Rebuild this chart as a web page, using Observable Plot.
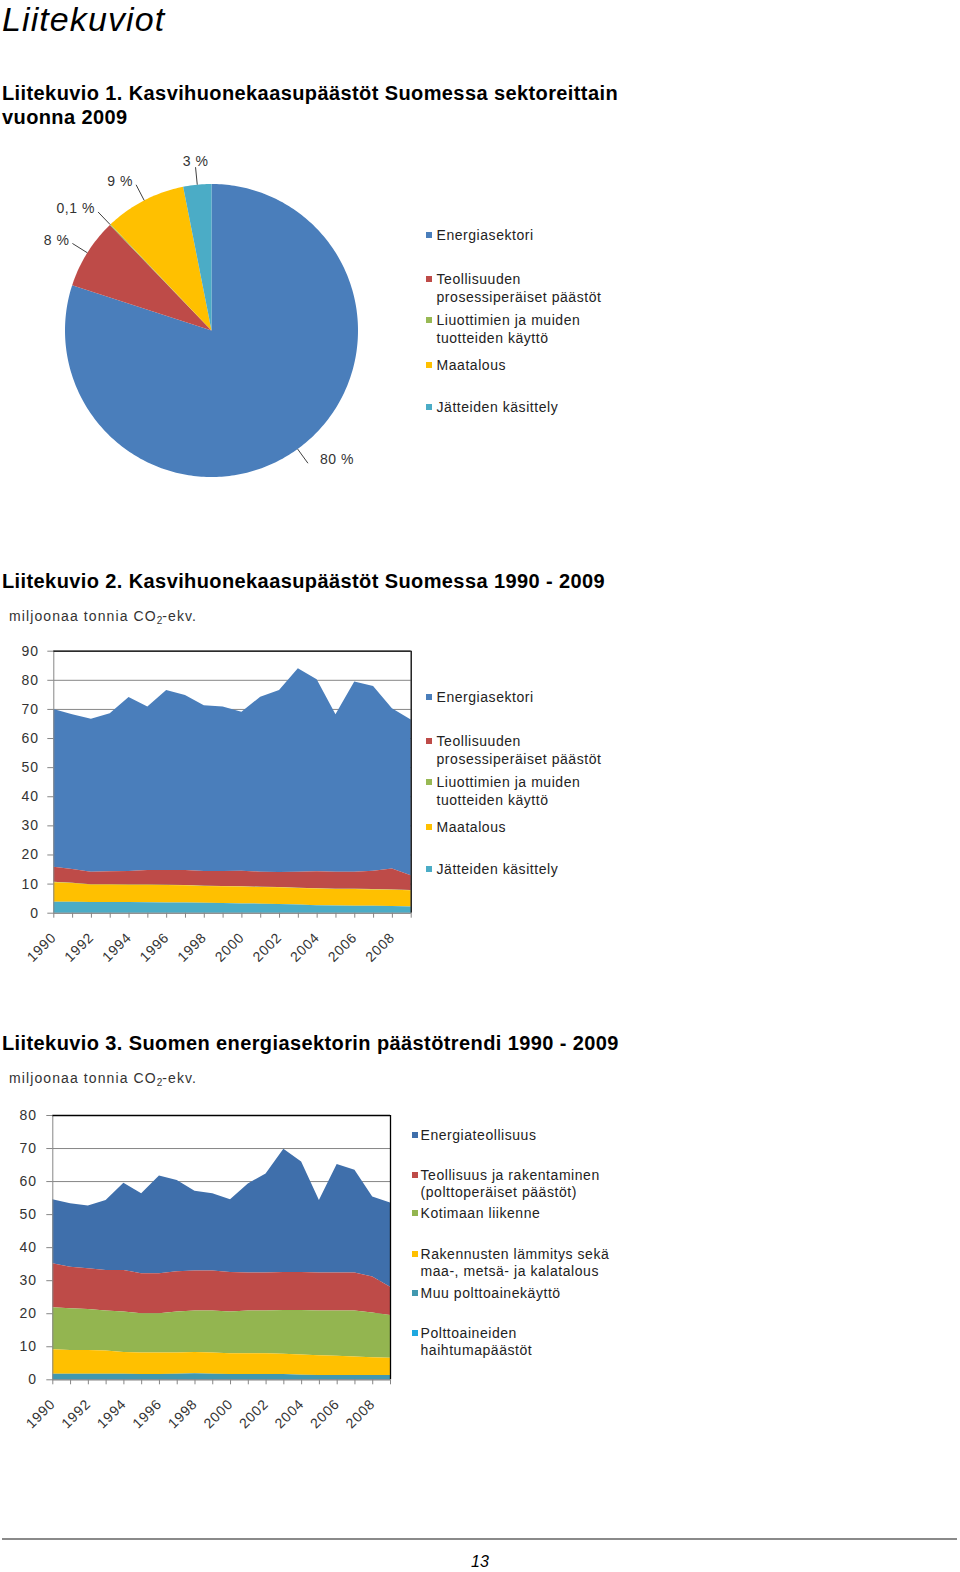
<!DOCTYPE html>
<html>
<head>
<meta charset="utf-8">
<script src="https://cdn.jsdelivr.net/npm/d3@7"></script>
<script src="https://cdn.jsdelivr.net/npm/@observablehq/plot@0.6"></script>
<style>
  body { margin: 0; background: #fff; }
  #page { position: relative; width: 960px; height: 1572px; overflow: hidden;
          font-family: "Liberation Sans", Arial, sans-serif; color: #000; }
  .abs { position: absolute; white-space: nowrap; }
  .h1 { left: 2px; top: 0; font-size: 34px; line-height: 38px; font-style: italic; letter-spacing: 1.1px; }
  .h2 { left: 2px; font-size: 20px; line-height: 20px; font-weight: bold; letter-spacing: 0.4px; }
  .unit { left: 9px; font-size: 14px; line-height: 14px; color: #333; letter-spacing: 1.1px; }
  .unit sub { font-size: 10px; vertical-align: -3px; line-height: 0; letter-spacing: 0; }
  .leg { font-size: 14px; line-height: 14px; color: #222; letter-spacing: 0.55px; }
  .sw { position: absolute; width: 6px; height: 6px; }
  .chart { position: absolute; left: 0; }
  .rule { position: absolute; left: 2px; width: 955px; top: 1538px; height: 2px; background: #8a8a8a; }
  .pageno { left: 0; width: 960px; text-align: center; font-size: 16px; line-height: 18px;
            font-style: italic; font-family: "Liberation Sans Narrow", "Liberation Sans", Arial, sans-serif; }
</style>
</head>
<body>
<div id="page"></div>
<script>
// ---------- DATA ----------
// Liitekuvio 1 (pie, 2009 shares, %)
const pieSectors = ["Energiasektori", "Teollisuuden prosessiperäiset päästöt", "Liuottimien ja muiden tuotteiden käyttö", "Maatalous", "Jätteiden käsittely"];
const pieShares = [80.0, 7.8, 0.1, 9.0, 3.1];
const pieLabels = ["80 %", "8 %", "0,1 %", "9 %", "3 %"];

// Liitekuvio 2 & 3 (million tonnes CO2-eq.)
const years = [1990, 1991, 1992, 1993, 1994, 1995, 1996, 1997, 1998, 1999, 2000, 2001, 2002, 2003, 2004, 2005, 2006, 2007, 2008, 2009];
const xTickLabels = [1990, 1992, 1994, 1996, 1998, 2000, 2002, 2004, 2006, 2008];

const energiasektori = [54.2, 53.2, 52.5, 54.3, 59.8, 56.1, 61.8, 60.1, 57.0, 56.5, 54.6, 60.1, 62.5, 69.9, 66.0, 54.1, 65.3, 63.5, 55.0, 53.5];
const teollisuudenProsessit = [5.2, 4.7, 4.3, 4.4, 4.6, 5.0, 5.1, 5.2, 5.0, 5.1, 5.3, 5.2, 5.2, 5.5, 5.8, 5.9, 5.9, 6.3, 7.2, 5.1];
const liuottimet = [0.1, 0.1, 0.1, 0.1, 0.1, 0.1, 0.1, 0.1, 0.1, 0.1, 0.1, 0.1, 0.1, 0.1, 0.1, 0.1, 0.1, 0.1, 0.1, 0.1];
const maatalous = [6.7, 6.4, 6.0, 6.0, 5.9, 6.0, 6.0, 5.9, 5.8, 5.8, 5.8, 5.7, 5.7, 5.7, 5.7, 5.6, 5.7, 5.6, 5.6, 5.6];
const jatteet = [3.8, 3.8, 3.7, 3.7, 3.7, 3.6, 3.5, 3.5, 3.4, 3.3, 3.2, 3.1, 3.0, 2.8, 2.6, 2.5, 2.4, 2.4, 2.3, 2.1];
const yTicks2 = [0, 10, 20, 30, 40, 50, 60, 70, 80, 90];

const energiateollisuus = [19.4, 19.2, 19.0, 21.2, 26.4, 24.2, 29.6, 27.6, 24.2, 23.4, 22.0, 27.0, 30.0, 37.3, 33.4, 22.0, 32.9, 31.1, 24.2, 25.5];
const teollisuusRakentaminen = [13.3, 12.6, 12.3, 12.3, 12.6, 12.1, 12.1, 12.2, 12.1, 12.1, 12.0, 11.5, 11.5, 11.5, 11.5, 11.5, 11.5, 11.5, 10.9, 8.5];
const kotimaanLiikenne = [12.7, 12.6, 12.4, 12.1, 12.2, 11.9, 11.9, 12.4, 12.5, 12.7, 12.6, 12.9, 12.9, 13.3, 13.5, 13.5, 13.7, 13.9, 13.5, 13.0];
const rakennustenLammitys = [7.4, 7.2, 7.2, 7.0, 6.6, 6.5, 6.5, 6.4, 6.5, 6.4, 6.3, 6.3, 6.3, 6.1, 6.1, 6.0, 5.8, 5.6, 5.4, 5.2];
const muuPolttoaine = [1.6, 1.6, 1.6, 1.6, 1.6, 1.5, 1.5, 1.6, 1.7, 1.6, 1.5, 1.5, 1.5, 1.5, 1.3, 1.2, 1.2, 1.2, 1.2, 1.2];
const haihtumapaastot = [0.1, 0.1, 0.1, 0.1, 0.1, 0.1, 0.1, 0.1, 0.1, 0.1, 0.1, 0.1, 0.1, 0.1, 0.1, 0.1, 0.1, 0.1, 0.1, 0.1];
const yTicks3 = [0, 10, 20, 30, 40, 50, 60, 70, 80];

// series names / legend text (lines)
const sectorNames2 = ["Energiasektori", "Teollisuuden prosessiperäiset päästöt", "Liuottimien ja muiden tuotteiden käyttö", "Maatalous", "Jätteiden käsittely"];
const legendLines1 = [["Energiasektori"], ["Teollisuuden", "prosessiperäiset päästöt"], ["Liuottimien ja muiden", "tuotteiden käyttö"], ["Maatalous"], ["Jätteiden käsittely"]];
const sectorNames3 = ["Energiateollisuus", "Teollisuus ja rakentaminen (polttoperäiset päästöt)", "Kotimaan liikenne", "Rakennusten lämmitys sekä maa-, metsä- ja kalatalous", "Muu polttoainekäyttö", "Polttoaineiden haihtumapäästöt"];
const legendLines3 = [["Energiateollisuus"], ["Teollisuus ja rakentaminen", "(polttoperäiset päästöt)"], ["Kotimaan liikenne"], ["Rakennusten lämmitys sekä", "maa-, metsä- ja kalatalous"], ["Muu polttoainekäyttö"], ["Polttoaineiden", "haihtumapäästöt"]];

// ---------- STYLE / LAYOUT ----------
const colors1 = ["#4a7ebb", "#be4b48", "#98b954", "#ffc000", "#4bacc6"];
const colors3 = ["#3f6fab", "#be4b48", "#93b550", "#ffc000", "#4198af", "#1ea8e0"];
const gridColor = "#868686";
const axisTextColor = "#333";

const page = document.getElementById("page");
function addText(cls, top, html) {
  const d = document.createElement("div");
  d.className = "abs " + cls;
  d.style.top = top + "px";
  d.innerHTML = html;
  page.appendChild(d);
  return d;
}
function addLegend(lines, colors, itemCenters, swX, textX, lineGap) {
  lines.forEach((ls, i) => {
    const sw = document.createElement("div");
    sw.className = "sw";
    sw.style.left = swX + "px";
    sw.style.top = (itemCenters[i] - 3) + "px";
    sw.style.background = colors[i];
    page.appendChild(sw);
    ls.forEach((t, k) => {
      const d = addText("leg", itemCenters[i] + k * lineGap - 7, t);
      d.style.left = textX + "px";
    });
  });
}
function place(svg, top) {
  const w = document.createElement("div");
  w.className = "chart";
  w.style.top = top + "px";
  w.appendChild(svg);
  page.appendChild(w);
}

// ---------- TEXT ----------
addText("h1", 0, "Liitekuviot");
addText("h2", 83, "Liitekuvio 1. Kasvihuonekaasupäästöt Suomessa sektoreittain");
addText("h2", 107, "vuonna 2009");
addText("h2", 571, "Liitekuvio 2. Kasvihuonekaasupäästöt Suomessa 1990 - 2009");
addText("unit", 609, "miljoonaa tonnia CO<sub>2</sub>-ekv.");
addText("h2", 1033, "Liitekuvio 3. Suomen energiasektorin päästötrendi 1990 - 2009");
addText("unit", 1071, "miljoonaa tonnia CO<sub>2</sub>-ekv.");
const ruleDiv = document.createElement("div"); ruleDiv.className = "rule"; page.appendChild(ruleDiv);
addText("pageno", 1553, "13");

// ---------- CHART 1: PIE ----------
{
  const W = 420, H = 360, top = 140;
  const cx = 211, cy = 330 - top, R = 146.5;
  const arcs = d3.pie().sort(null)(pieShares);
  const slices = arcs.map((a) => {
    const n = Math.max(2, Math.ceil((a.endAngle - a.startAngle) / (Math.PI / 180)));
    const pts = [{x: 0, y: 0}];
    for (let k = 0; k <= n; k++) {
      const t = a.startAngle + (a.endAngle - a.startAngle) * k / n;
      pts.push({x: Math.sin(t), y: Math.cos(t)});
    }
    pts.push({x: 0, y: 0});
    return pts;
  });
  const lab = arcs.map((a, i) => {
    const m = (a.startAngle + a.endAngle) / 2;
    return {x1: Math.sin(m), y1: Math.cos(m), x2: 1.12 * Math.sin(m), y2: 1.12 * Math.cos(m), s: Math.sin(m), label: pieLabels[i]};
  });
  const svg = Plot.plot({
    width: W, height: H, margin: 0,
    x: {domain: [-cx / R, (W - cx) / R], axis: null},
    y: {domain: [-(H - cy) / R, cy / R], axis: null},
    style: {fontFamily: "Liberation Sans, Arial, sans-serif", fontSize: "14px", color: axisTextColor, letterSpacing: "0.55px", background: "transparent", overflow: "visible"},
    marks: [
      ...slices.map((pts, i) => Plot.line(pts, {x: "x", y: "y", fill: colors1[i], stroke: "none", curve: "linear"})),
      Plot.link(lab, {x1: "x1", y1: "y1", x2: "x2", y2: "y2", stroke: "#404040", strokeWidth: 1}),
      Plot.text(lab.filter(d => d.s > 0.3), {x: "x2", y: "y2", text: "label", textAnchor: "start", dx: 12, dy: -4, fill: axisTextColor}),
      Plot.text(lab.filter(d => d.s < -0.3), {x: "x2", y: "y2", text: "label", textAnchor: "end", dx: -3, dy: -3, fill: axisTextColor}),
      Plot.text(lab.filter(d => Math.abs(d.s) <= 0.3), {x: "x2", y: "y2", text: "label", textAnchor: "middle", dy: -6, fill: axisTextColor})
    ]
  });
  place(svg, top);
  addLegend(legendLines1, colors1, [234.7, 279, 320, 365, 407.3], 426, 436.5, 17.5);
}

// ---------- STACKED AREA HELPER ----------
function stackedChart({names, values, colors, yTicks, yMax, W, H, mL, mR, mT, mB, padY}) {
  const rows = [];
  names.forEach((name, i) => years.forEach((yr, j) => rows.push({year: yr, series: name, value: values[i][j]})));
  const order = names.slice().reverse(); // bottom-most first
  return Plot.plot({
    width: W, height: H, marginLeft: mL, marginRight: mR, marginTop: mT, marginBottom: mB,
    x: {domain: [years[0], years[years.length - 1]]},
    y: {domain: [0, yMax]},
    color: {domain: names, range: colors},
    style: {fontFamily: "Liberation Sans, Arial, sans-serif", fontSize: "14px", color: axisTextColor, letterSpacing: "0.8px", background: "transparent", overflow: "visible"},
    marks: [
      Plot.gridY(yTicks, {stroke: gridColor, strokeOpacity: 1}),
      Plot.areaY(rows, {x: "year", y: "value", fill: "series", order, curve: "linear"}),
      Plot.ruleY([0], {stroke: gridColor}),
      Plot.ruleX([years[0]], {stroke: gridColor}),
      Plot.ruleY([yMax], {stroke: "#000", strokeWidth: 1.3}),
      Plot.ruleX([years[years.length - 1]], {stroke: "#000", strokeWidth: 1.3}),
      Plot.axisY(yTicks, {tickSize: 6, tickPadding: padY, stroke: gridColor, label: null, tickFormat: d => String(d)}),
      Plot.axisX(years, {tickSize: 5, tickPadding: 17, stroke: gridColor, label: null, tickRotate: -45,
                         tickFormat: d => xTickLabels.includes(d) ? String(d) : ""})
    ]
  });
}

// ---------- CHART 2 ----------
{
  const top = 630;
  const svg = stackedChart({
    names: sectorNames2,
    values: [energiasektori, teollisuudenProsessit, liuottimet, maatalous, jatteet],
    colors: colors1, yTicks: yTicks2, yMax: 90,
    W: 430, H: 350, mL: 53.3, mR: 430 - 410.7, mT: 650.7 - top, mB: 350 - (912.7 - top), padY: 9
  });
  place(svg, top);
  addLegend(legendLines1, colors1, [696.8, 741, 782, 827, 869.3], 426, 436.5, 17.5);
}

// ---------- CHART 3 ----------
{
  const top = 1095;
  const svg = stackedChart({
    names: sectorNames3,
    values: [energiateollisuus, teollisuusRakentaminen, kotimaanLiikenne, rakennustenLammitys, muuPolttoaine, haihtumapaastot],
    colors: colors3, yTicks: yTicks3, yMax: 80,
    W: 410, H: 355, mL: 52.3, mR: 410 - 390, mT: 1115 - top, mB: 355 - (1379.3 - top), padY: 10
  });
  place(svg, top);
  addLegend(legendLines3, colors3, [1135, 1175, 1213.3, 1254, 1293.3, 1333.3], 411.5, 420.5, 17);
}
</script>
</body>
</html>
